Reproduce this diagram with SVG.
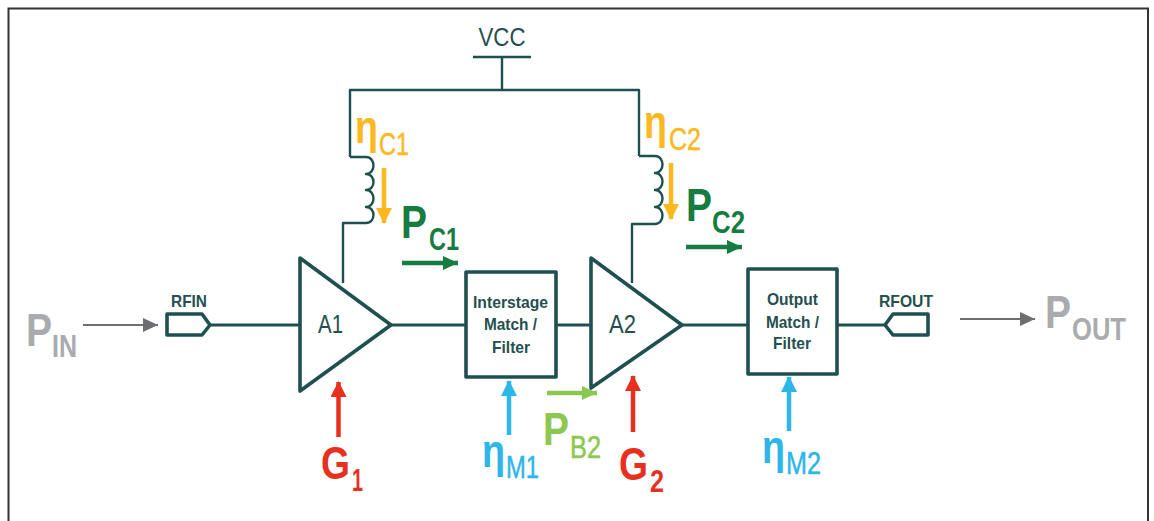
<svg xmlns="http://www.w3.org/2000/svg" width="1154" height="521" viewBox="0 0 1154 521">
<style>
text{font-family:"Liberation Sans",Arial,sans-serif}
.w{fill:none;stroke:#1e5050;stroke-width:3;stroke-linejoin:round}
.t{fill:none;stroke:#1e5050;stroke-width:2.4;stroke-linejoin:round}
.s{fill:#fff;stroke:#1e5050;stroke-width:3.6;stroke-linejoin:round}
.l{fill:#25504f}
.b{font-weight:bold}
.big{font-size:46px;font-weight:bold}
.eta{font-size:47px;font-weight:bold}
.sub{font-size:31px}
.m{stroke-width:.5px}
.gy{fill:#a9abae}.gn{fill:#167c3f}.yl{fill:#fdb81e;stroke:#fdb81e}.rd{fill:#e8301f}.bl{fill:#2db6ea;stroke:#2db6ea}.lg{fill:#8cc751;stroke:#8cc751}
.eta,.big{stroke-width:0}
.ay,.ag,.ar,.ab,.al,.an{fill:none;stroke-width:4.500}
.ay{stroke:#fdb81e}.ag{stroke:#167c3f}.ar{stroke:#e8301f}.ab{stroke:#2db6ea}.al{stroke:#8cc751}
.an{stroke:#6d6e71;stroke-width:2}
</style>
<defs>
<marker id="my" markerUnits="userSpaceOnUse" markerWidth="17" markerHeight="16" refX="15" refY="8" orient="auto"><path d="M0,0L16,8L0,16Z" fill="#fdb81e"/></marker>
<marker id="mg" markerUnits="userSpaceOnUse" markerWidth="17" markerHeight="16" refX="15" refY="8" orient="auto"><path d="M0,1L15,8L0,15Z" fill="#167c3f"/></marker>
<marker id="mr" markerUnits="userSpaceOnUse" markerWidth="17" markerHeight="16" refX="15" refY="8" orient="auto"><path d="M0,0L16,8L0,16Z" fill="#e8301f"/></marker>
<marker id="mb" markerUnits="userSpaceOnUse" markerWidth="17" markerHeight="16" refX="15" refY="8" orient="auto"><path d="M0,0L16,8L0,16Z" fill="#2db6ea"/></marker>
<marker id="ml" markerUnits="userSpaceOnUse" markerWidth="17" markerHeight="16" refX="15" refY="8" orient="auto"><path d="M0,1L15,8L0,15Z" fill="#8cc751"/></marker>
<marker id="mn" markerUnits="userSpaceOnUse" markerWidth="17" markerHeight="16" refX="15" refY="8" orient="auto"><path d="M0,1L15,8L0,15Z" fill="#6d6e71"/></marker>
</defs>
<rect width="1154" height="521" fill="#fff"/>
<path id="frame" d="M8.500,521V8.500H1148V521" fill="none" stroke="#333" stroke-width="2"/>
<g id="connectors">
<path class="t" d="M473,57H531M502,57V90M350,157V90H639V156"/>
<path class="t" d="M350,157H366c10,0 10,17 0,17c10,0 10,16 0,16c10,0 10,17 0,17c10,0 10,16 0,16H343V283"/>
<path class="t" d="M639,156H655c10,0 10,17 0,17c10,0 10,17 0,17c10,0 10,17 0,17c10,0 10,17 0,17H632V283"/>
<path class="w" d="M211,325H300M391,325H466M556,325H591M682,325H748M837,325H885"/>
<path class="ay" marker-end="url(#my)" d="M384,168V223"/>
<path class="ay" marker-end="url(#my)" d="M671,163V219"/>
<path class="ag" marker-end="url(#mg)" d="M402,263H458"/>
<path class="ag" marker-end="url(#mg)" d="M686,247H742"/>
<path class="ar" marker-end="url(#mr)" d="M338.500,437V382"/>
<path class="ar" marker-end="url(#mr)" d="M633,432V376"/>
<path class="ab" marker-end="url(#mb)" d="M509,435V381"/>
<path class="ab" marker-end="url(#mb)" d="M789,431V377"/>
<path class="al" marker-end="url(#ml)" d="M547,393H597"/>
<path class="an" marker-end="url(#mn)" d="M83,325H158"/>
<path class="an" marker-end="url(#mn)" d="M960,319H1035"/>
</g>
<g id="vcc"><text class="l" x="502" y="46" font-size="25" text-anchor="middle" textLength="47" lengthAdjust="spacingAndGlyphs">VCC</text></g>
<g id="rfin"><path class="s" d="M167,314H202L210,325L202,335H167Z"/><text class="l b" x="171" y="307" font-size="16.500" textLength="36" lengthAdjust="spacingAndGlyphs">RFIN</text></g>
<g id="rfout"><path class="s" d="M928,314H893L885,325L893,335H928Z"/><text class="l b" x="879" y="307" font-size="16.500" textLength="54" lengthAdjust="spacingAndGlyphs">RFOUT</text></g>
<g id="a1"><path class="s" d="M300,258L391,325L300,391Z"/><text class="l" x="318" y="333" font-size="26" textLength="25" lengthAdjust="spacingAndGlyphs">A1</text></g>
<g id="a2"><path class="s" d="M591,258L682,325L591,388Z"/><text class="l" x="609" y="333" font-size="26" textLength="27" lengthAdjust="spacingAndGlyphs">A2</text></g>
<g id="interstage"><rect class="s" x="466" y="272" width="90" height="105"/>
<text class="l b" font-size="17" x="473" y="308" textLength="75" lengthAdjust="spacingAndGlyphs">Interstage</text>
<text class="l b" font-size="17" x="484" y="330" textLength="53" lengthAdjust="spacingAndGlyphs">Match /</text>
<text class="l b" font-size="17" x="492" y="353" textLength="38" lengthAdjust="spacingAndGlyphs">Filter</text></g>
<g id="output"><rect class="s" x="748" y="269" width="89" height="105"/>
<text class="l b" font-size="17" x="767" y="305" textLength="51" lengthAdjust="spacingAndGlyphs">Output</text>
<text class="l b" font-size="17" x="766" y="328" textLength="53" lengthAdjust="spacingAndGlyphs">Match /</text>
<text class="l b" font-size="17" x="773" y="349" textLength="38" lengthAdjust="spacingAndGlyphs">Filter</text></g>
<g id="pin"><text class="big gy" x="26" y="346" textLength="26" lengthAdjust="spacingAndGlyphs">P</text><text class="sub gy b" x="52" y="357" textLength="25" lengthAdjust="spacingAndGlyphs">IN</text></g>
<g id="pout"><text class="big gy" x="1045" y="328" textLength="26" lengthAdjust="spacingAndGlyphs">P</text><text class="sub gy b" x="1072" y="340" textLength="54" lengthAdjust="spacingAndGlyphs">OUT</text></g>
<g id="g1"><text class="big rd" x="321" y="479" textLength="29" lengthAdjust="spacingAndGlyphs">G</text><text class="sub rd b" x="352" y="491" textLength="11" lengthAdjust="spacingAndGlyphs">1</text></g>
<g id="g2"><text class="big rd" x="619" y="480" textLength="29" lengthAdjust="spacingAndGlyphs">G</text><text class="sub rd b" x="650" y="492" textLength="14" lengthAdjust="spacingAndGlyphs">2</text></g>
<g id="etam1"><text class="eta bl" x="482" y="467" textLength="23" lengthAdjust="spacingAndGlyphs">η</text><text class="sub bl m" x="506" y="478" textLength="33" lengthAdjust="spacingAndGlyphs">M1</text></g>
<g id="pb2"><text class="big lg" x="543" y="445" textLength="26" lengthAdjust="spacingAndGlyphs">P</text><text class="sub lg m" x="570" y="458" textLength="31" lengthAdjust="spacingAndGlyphs">B2</text></g>
<g id="etam2"><text class="eta bl" x="762" y="463" textLength="23" lengthAdjust="spacingAndGlyphs">η</text><text class="sub bl m" x="786" y="474" textLength="35" lengthAdjust="spacingAndGlyphs">M2</text></g>
<g id="etac1"><text class="eta yl" x="355" y="143" textLength="23" lengthAdjust="spacingAndGlyphs">η</text><text class="sub yl m" x="379" y="155" textLength="30" lengthAdjust="spacingAndGlyphs">C1</text></g>
<g id="etac2"><text class="eta yl" x="644" y="138" textLength="23" lengthAdjust="spacingAndGlyphs">η</text><text class="sub yl m" x="669" y="150" textLength="32" lengthAdjust="spacingAndGlyphs">C2</text></g>
<g id="pc1"><text class="big gn" x="401" y="238" textLength="26" lengthAdjust="spacingAndGlyphs">P</text><text class="sub gn b" x="429" y="250" textLength="30" lengthAdjust="spacingAndGlyphs">C1</text></g>
<g id="pc2"><text class="big gn" x="686" y="221" textLength="26" lengthAdjust="spacingAndGlyphs">P</text><text class="sub gn b" x="712" y="233" textLength="33" lengthAdjust="spacingAndGlyphs">C2</text></g>
</svg>
